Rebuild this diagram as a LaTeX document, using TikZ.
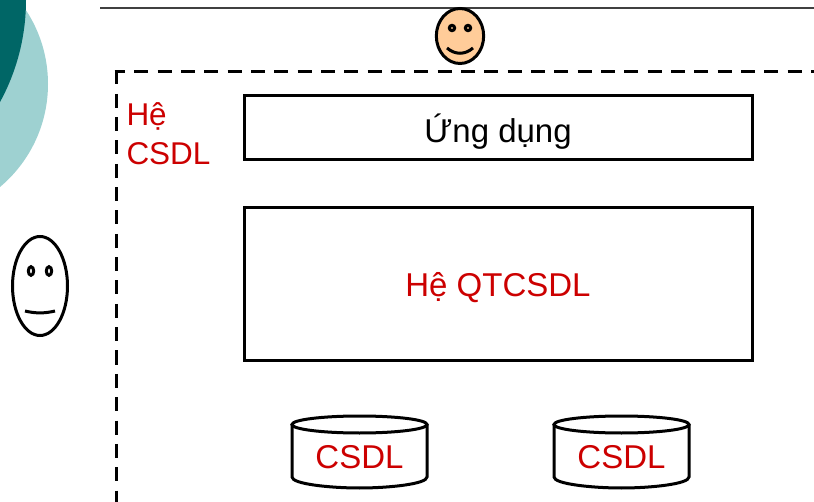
\documentclass[tikz,border=0pt]{standalone}
\usepackage{fontspec}
\setmainfont{Liberation Sans}
\usepackage{xcolor}
\usetikzlibrary{shapes.geometric}
\definecolor{cfred}{HTML}{CC0000}
\definecolor{cfteal}{HTML}{006666}
\definecolor{cflight}{HTML}{9ED1D1}
\definecolor{cfskin}{HTML}{FFCC99}
\begin{document}
\begin{tikzpicture}[x=0.75pt, y=-0.75pt,
    every node/.style={font=\fontsize{24.75}{30}\selectfont, inner sep=0pt, outer sep=0pt}]

    \tikzstyle{boxnode}=[rectangle, draw, line width=2.25pt, minimum width=381pt, anchor=north west]
    \tikzstyle{facenode}=[ellipse, draw, line width=2.25pt]
    \tikzstyle{eyenode}=[ellipse, draw, line width=2.25pt, minimum width=4pt, minimum height=6.5pt]
    \tikzstyle{frameline}=[line width=2.25pt, dash pattern=on 10.5pt off 7pt]
    \tikzstyle{dbline}=[line width=2.25pt]

    \useasboundingbox (0,0) rectangle (814,502);
    \clip (0,0) rectangle (814,502);

    \fill[cflight] (-86.5,84) circle [radius=134.5];
    \fill[cfteal] (-187,0) circle [radius=213];
    \draw[line width=1.2pt, black!75] (100,8) -- (814,8);

    \draw[frameline] (116,70.5) -- (116,502);
    \draw[frameline, dash phase=2.6pt] (114.5,72) -- (814,72);

    \node[facenode, fill=cfskin, minimum width=35.5pt, minimum height=41.25pt] (user) at (460,36) {};
    \node[eyenode, minimum height=4pt] (usereye1) at (452,28) {};
    \node[eyenode, minimum height=4pt] (usereye2) at (468,28) {};
    \draw[line width=2.25pt] (447,48) .. controls (455,55) and (465,55) .. (473,48);

    \node[facenode, minimum width=41.25pt, minimum height=74.25pt] (admin) at (40,286) {};
    \node[eyenode] (admineye1) at (31,271) {};
    \node[eyenode] (admineye2) at (49,271) {};
    \draw[line width=2.25pt] (25,311) .. controls (35,313.5) and (45,313.5) .. (55,311);

    \node[anchor=north west, align=left, text=cfred, font=\fontsize{23.6}{29}\selectfont] (hecsdl) at (126.5,102.5) {Hệ\\CSDL};

    \node[boxnode, minimum height=48pt] (app) at (244,96) {};
    \node (apptext) at (498,131.5) {Ứng dụng};
    \node[boxnode, minimum height=114pt] (dbms) at (244,208) {};
    \node[text=cfred] (dbmstext) at (498,288) {Hệ QTCSDL};

    \draw[dbline] (359.5,424.5) ellipse [x radius=67.5, y radius=8.5];
    \draw[dbline] (292,424.5) -- (292,477) .. controls (292,484) and (330,488) .. (359.5,488) .. controls (389,488) and (427,484) .. (427,477) -- (427,424.5);
    \node[text=cfred] (db1) at (359.5,457) {CSDL};

    \draw[dbline] (621.5,424.5) ellipse [x radius=67.5, y radius=8.5];
    \draw[dbline] (554,424.5) -- (554,477) .. controls (554,484) and (592,488) .. (621.5,488) .. controls (651,488) and (689,484) .. (689,477) -- (689,424.5);
    \node[text=cfred] (db2) at (621.5,457) {CSDL};

\end{tikzpicture}
\end{document}
